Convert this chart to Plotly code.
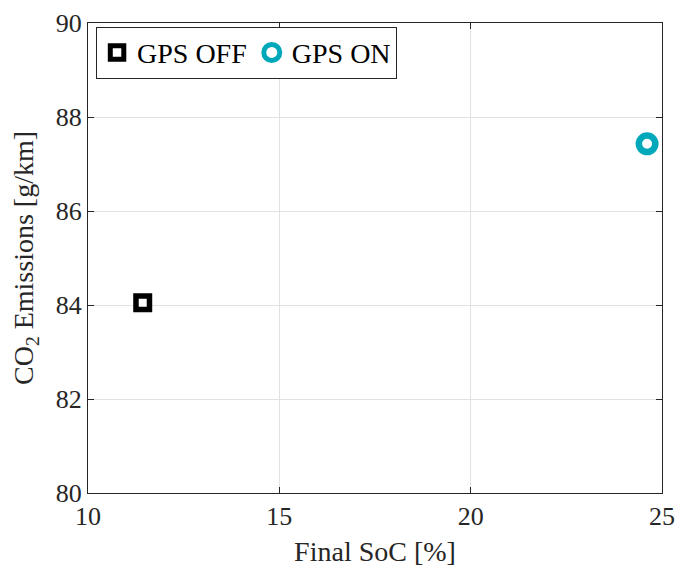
import plotly.graph_objects as go

# Final state of charge vs. CO2 emissions for the two navigation modes
series_names = ["GPS OFF", "GPS ON"]
final_soc = [11.43, 24.61]       # %
co2_emissions = [84.05, 87.43]   # g/km

x_ticks = [10, 15, 20, 25]
y_ticks = [80, 82, 84, 86, 88, 90]

FONT = "Liberation Serif"
INK = "#262626"

fig = go.Figure()
fig.add_trace(go.Scatter(
    x=[final_soc[0]], y=[co2_emissions[0]], mode="markers", name=series_names[0],
    marker=dict(symbol="square", size=13.5, color="white",
                line=dict(color="black", width=5.5)),
))
fig.add_trace(go.Scatter(
    x=[final_soc[1]], y=[co2_emissions[1]], mode="markers", name=series_names[1],
    marker=dict(symbol="circle", size=16.5, color="white",
                line=dict(color="#00A8BA", width=6.5)),
))

axis_common = dict(
    showgrid=True, gridcolor="#e2e2e2", gridwidth=1,
    showline=True, linecolor=INK, linewidth=1, mirror="ticks",
    ticks="inside", ticklen=6, tickcolor=INK,
    zeroline=False, automargin=False,
    tickfont=dict(family=FONT, size=26, color=INK),
)

fig.update_xaxes(range=[10, 25], tickvals=x_ticks,
                 title=dict(text="Final SoC [%]", font=dict(family=FONT, size=28, color=INK), standoff=11),
                 **axis_common)
fig.update_yaxes(range=[80, 90], tickvals=y_ticks,
                 title=dict(text="CO<sub>2</sub> Emissions [g/km]", font=dict(family=FONT, size=28, color=INK), standoff=13),
                 **axis_common)

fig.update_layout(
    width=678, height=570,
    margin=dict(l=88, r=16, t=23, b=77),
    plot_bgcolor="white", paper_bgcolor="white",
    font=dict(family=FONT, size=26, color="black"),
    legend=dict(
        orientation="h", x=0.014, y=0.992, xanchor="left", yanchor="top",
        bgcolor="white", bordercolor=INK, borderwidth=1,
        font=dict(family=FONT, size=28, color="black"),
        itemwidth=30, tracegroupgap=0,
    ),
    showlegend=True,
)

fig.write_html("out.html")
